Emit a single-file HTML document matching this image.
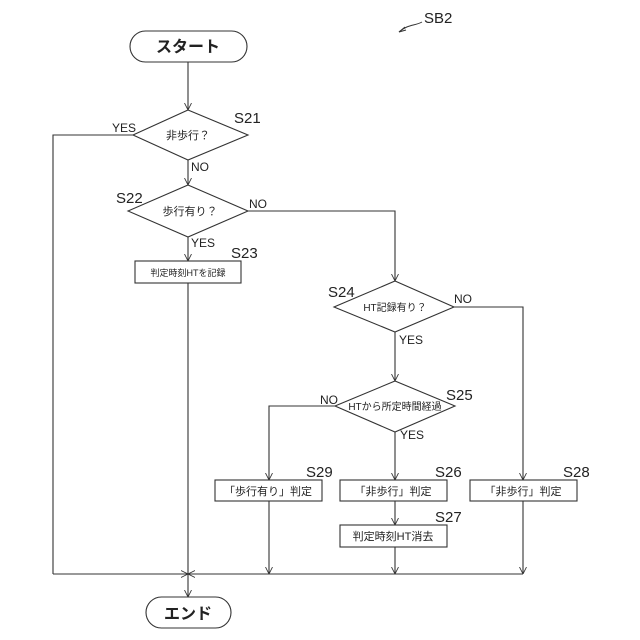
<!DOCTYPE html>
<html><head><meta charset="utf-8"><style>
html,body{margin:0;padding:0;background:#fff;}
svg{display:block;}
text{font-family:"Liberation Sans","Noto Sans CJK JP",sans-serif;fill:#222;}
.lbl{font-family:"Liberation Sans Narrow","Liberation Sans",sans-serif;font-size:15px;}
.s{font-size:11px;}
.yn{font-size:12px;}
</style></head><body>
<svg width="640" height="640" viewBox="0 0 640 640" xmlns="http://www.w3.org/2000/svg">
<defs>
<marker id="a" viewBox="0 0 10 10" refX="10" refY="5" markerWidth="7" markerHeight="9" orient="auto" markerUnits="userSpaceOnUse">
<path d="M0,0 L10,5 L0,10" fill="none" stroke="#333" stroke-width="1.2"/>
</marker>
</defs>
<g fill="none" stroke="#333" stroke-width="1.1">
<!-- start -->
<rect x="130" y="31" width="117" height="31" rx="15.5"/>
<line x1="188" y1="62" x2="188" y2="110" marker-end="url(#a)"/>
<!-- S21 -->
<polygon points="188,110 248,135 188,160 133,135"/>
<polyline points="133,135 53,135 53,574"/>
<line x1="188" y1="160" x2="188" y2="185" marker-end="url(#a)"/>
<!-- S22 -->
<polygon points="188,185 248,211 188,237 128,211"/>
<polyline points="248,211 395,211 395,281" marker-end="url(#a)"/>
<line x1="188" y1="237" x2="188" y2="261" marker-end="url(#a)"/>
<!-- S23 -->
<rect x="135" y="261" width="106" height="22"/>
<line x1="188" y1="283" x2="188" y2="574"/>
<!-- S24 -->
<polygon points="395,281 454,307 395,332 334,307"/>
<polyline points="454,307 523,307 523,480" marker-end="url(#a)"/>
<line x1="395" y1="332" x2="395" y2="381" marker-end="url(#a)"/>
<!-- S25 -->
<polygon points="395,381 455,406 395,432 335,406"/>
<polyline points="335,406 269,406 269,480" marker-end="url(#a)"/>
<line x1="395" y1="432" x2="395" y2="480" marker-end="url(#a)"/>
<!-- boxes -->
<rect x="215" y="480" width="107" height="21"/>
<rect x="340" y="480" width="107" height="21"/>
<rect x="470" y="480" width="107" height="21"/>
<line x1="395" y1="501" x2="395" y2="525" marker-end="url(#a)"/>
<rect x="340" y="525" width="107" height="22"/>
<line x1="269" y1="501" x2="269" y2="574" marker-end="url(#a)"/>
<line x1="395" y1="547" x2="395" y2="574" marker-end="url(#a)"/>
<line x1="523" y1="501" x2="523" y2="574" marker-end="url(#a)"/>
<!-- bottom line -->
<line x1="53" y1="574" x2="188" y2="574" marker-end="url(#a)"/>
<line x1="523" y1="574" x2="188" y2="574" marker-end="url(#a)"/>
<line x1="188" y1="574" x2="188" y2="597" marker-end="url(#a)"/>
<!-- end -->
<rect x="146" y="597" width="85" height="31" rx="15.5"/>
<!-- SB2 arrow -->
<path d="M422,22 C415,26 408,24 399,32" stroke-width="1"/>
<path d="M399,32 L405,27 M399,32 L406,30" stroke-width="1"/>
</g>
<text x="188" y="52" font-size="16" font-weight="bold" text-anchor="middle">スタート</text>
<text x="188" y="619" font-size="16" font-weight="bold" text-anchor="middle">エンド</text>
<text class="lbl" x="424" y="23">SB2</text>
<text x="188" y="139" class="s" text-anchor="middle">非歩行？</text>
<text class="lbl" x="234" y="123">S21</text>
<text class="yn" x="112" y="132">YES</text>
<text class="yn" x="191" y="171">NO</text>
<text x="190" y="215" class="s" text-anchor="middle">歩行有り？</text>
<text class="lbl" x="116" y="203">S22</text>
<text class="yn" x="249" y="208">NO</text>
<text class="yn" x="191" y="247">YES</text>
<text x="188" y="276" font-size="9" text-anchor="middle">判定時刻HTを記録</text>
<text class="lbl" x="231" y="258">S23</text>
<text x="395" y="311" font-size="10" text-anchor="middle">HT記録有り？</text>
<text class="lbl" x="328" y="297">S24</text>
<text class="yn" x="454" y="303">NO</text>
<text class="yn" x="399" y="344">YES</text>
<text x="395" y="410" font-size="10" text-anchor="middle">HTから所定時間経過</text>
<text class="lbl" x="446" y="400">S25</text>
<text class="yn" x="320" y="404">NO</text>
<text class="yn" x="400" y="439">YES</text>
<text x="268" y="495" font-size="11" text-anchor="middle">「歩行有り」判定</text>
<text x="393" y="495" font-size="11" text-anchor="middle">「非歩行」判定</text>
<text x="523" y="495" font-size="11" text-anchor="middle">「非歩行」判定</text>
<text x="393" y="540" font-size="11" text-anchor="middle">判定時刻HT消去</text>
<text class="lbl" x="306" y="477">S29</text>
<text class="lbl" x="435" y="477">S26</text>
<text class="lbl" x="563" y="477">S28</text>
<text class="lbl" x="435" y="522">S27</text>
</svg>
</body></html>
